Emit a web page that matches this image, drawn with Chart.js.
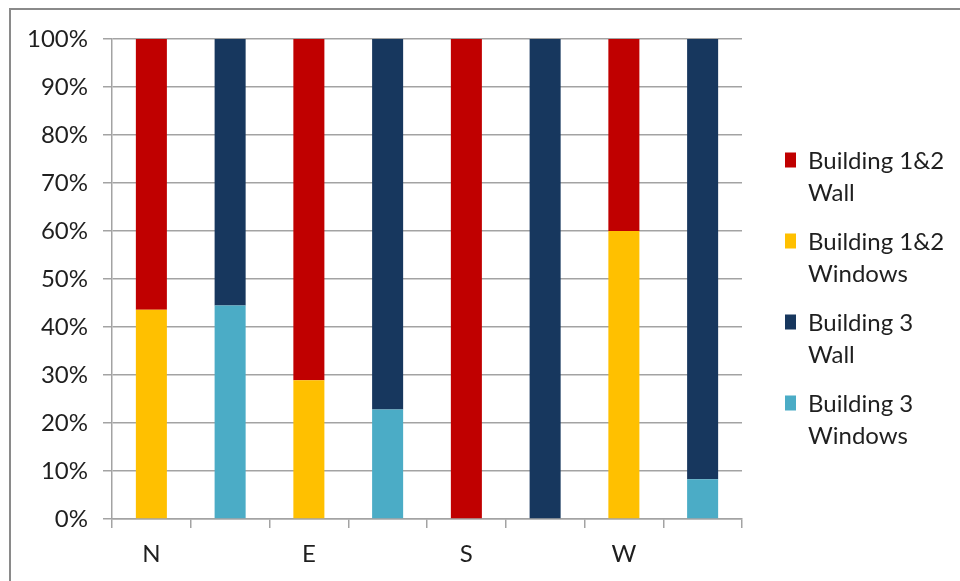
<!DOCTYPE html>
<html>
<head>
<meta charset="utf-8">
<script src="https://cdn.jsdelivr.net/npm/chart.js@4.4.1/dist/chart.umd.min.js"></script>
<style>
  html, body { margin: 0; padding: 0; background: #ffffff; }
  #wrap { width: 960px; height: 581px; position: relative; }
</style>
</head>
<body>
<div id="wrap"><canvas id="c" width="960" height="581"></canvas></div>
<script>
// Share of facade area (wall vs. windows) per orientation, in percent
const categories = ['N', '', 'E', '', 'S', '', 'W', ''];
const b12Wall    = [56.4, null, 71.1, null, 100, null, 40, null];
const b12Windows = [43.6, null, 28.9, null, 0, null, 60, null];
const b3Wall     = [null, 55.5, null, 77.2, null, 100, null, 91.7];
const b3Windows  = [null, 44.5, null, 22.8, null, 0, null, 8.3];
const yTicks = [0, 10, 20, 30, 40, 50, 60, 70, 80, 90, 100];

const COLORS = {
  b12Wall: '#C00000',
  b12Windows: '#FFC000',
  b3Wall: '#17375E',
  b3Windows: '#4BACC6'
};
const FONT = 'Lato';
const FONT_SIZE = 24;
const GRID = '#a3a3a3';
const TEXT = '#1f1f1f';

// Windows first so they sit at the bottom of each stack
const datasets = [
  { label: 'Building 1&2 Windows', data: b12Windows, backgroundColor: COLORS.b12Windows },
  { label: 'Building 1&2 Wall',    data: b12Wall,    backgroundColor: COLORS.b12Wall },
  { label: 'Building 3 Windows',   data: b3Windows,  backgroundColor: COLORS.b3Windows },
  { label: 'Building 3 Wall',      data: b3Wall,     backgroundColor: COLORS.b3Wall }
].map(d => Object.assign(d, { barPercentage: 0.394, categoryPercentage: 1, borderWidth: 0 }));

// Legend order as listed on the right
const legendOrder = [1, 0, 3, 2];

const frame = {
  id: 'frame',
  beforeDraw(chart) {
    const ctx = chart.ctx;
    ctx.save();
    ctx.fillStyle = '#ffffff';
    ctx.fillRect(0, 0, chart.width, chart.height);
    ctx.strokeStyle = '#8a8a8a';
    ctx.lineWidth = 2;
    ctx.strokeRect(10, 9, chart.width + 20, chart.height + 20);
    ctx.restore();
  }
};

const sideLegend = {
  id: 'sideLegend',
  afterDraw(chart) {
    const ctx = chart.ctx;
    const area = chart.chartArea;
    const boxX = area.right + 43;
    const textX = area.right + 66;
    const firstY = area.top + 121;
    const itemGap = 81;
    const lineGap = 32;
    ctx.save();
    ctx.font = FONT_SIZE + 'px ' + FONT;
    ctx.textBaseline = 'middle';
    ctx.textAlign = 'left';
    legendOrder.forEach((idx, i) => {
      const ds = chart.data.datasets[idx];
      const y = firstY + i * itemGap;
      ctx.fillStyle = ds.backgroundColor;
      ctx.fillRect(boxX, y - 7.5, 11, 15);
      const cut = ds.label.lastIndexOf(' ');
      const lines = [ds.label.slice(0, cut), ds.label.slice(cut + 1)];
      ctx.fillStyle = TEXT;
      lines.forEach((t, j) => ctx.fillText(t, textX, y + 1 + j * lineGap));
    });
    ctx.restore();
  }
};

new Chart(document.getElementById('c'), {
  type: 'bar',
  data: { labels: categories, datasets },
  plugins: [frame, sideLegend],
  options: {
    responsive: false,
    animation: false,
    events: [],
    layout: { padding: { left: 0, top: 39, right: 218, bottom: 0 } },
    plugins: { legend: { display: false }, tooltip: { enabled: false } },
    scales: {
      x: {
        stacked: true,
        afterFit(s) { s.height = 62; },
        grid: { display: true, drawOnChartArea: false, drawTicks: true, tickLength: 9, color: GRID, lineWidth: 1.5, offset: true },
        border: { display: true, color: GRID, width: 1.5 },
        ticks: { color: TEXT, font: { family: FONT, size: FONT_SIZE }, padding: 12, maxRotation: 0, autoSkip: false }
      },
      y: {
        stacked: true,
        min: 0,
        max: 100,
        afterFit(s) { s.width = 112; },
        afterBuildTicks(s) { s.ticks = yTicks.map(v => ({ value: v })); },
        grid: { color: GRID, lineWidth: 1.5, tickLength: 9 },
        border: { display: true, color: GRID, width: 1.5 },
        ticks: { color: TEXT, font: { family: FONT, size: FONT_SIZE }, padding: 15, callback: v => v + '%' }
      }
    }
  }
});
</script>
</body>
</html>
